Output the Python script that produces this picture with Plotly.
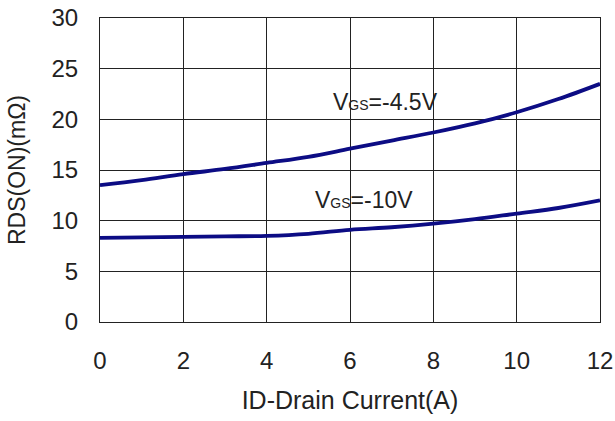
import plotly.graph_objects as go

drain_current = [0, 1, 2, 3, 4, 5, 6, 7, 8, 9, 10, 11, 12]
rds_vgs_4p5 = [13.5, 14.0, 14.6, 15.1, 15.7, 16.3, 17.1, 17.9, 18.7, 19.6, 20.7, 22.0, 23.5]
rds_vgs_10 = [8.3, 8.35, 8.4, 8.45, 8.5, 8.7, 9.1, 9.35, 9.7, 10.15, 10.7, 11.25, 12.0]

label_4p5 = "V<span style='font-size:14px'>GS</span>=-4.5V"
label_10 = "V<span style='font-size:14px'>GS</span>=-10V"

line_color = "#0c0c84"
font_family = "Liberation Sans, Arial, sans-serif"

fig = go.Figure()
fig.add_trace(go.Scatter(x=drain_current, y=rds_vgs_4p5, mode="lines",
                         line=dict(color=line_color, width=3.8, shape="spline"),
                         showlegend=False))
fig.add_trace(go.Scatter(x=drain_current, y=rds_vgs_10, mode="lines",
                         line=dict(color=line_color, width=3.8, shape="spline"),
                         showlegend=False))

fig.add_annotation(x=6.84, y=21.7, text=label_4p5, showarrow=False,
                   font=dict(size=23, color="#222222", family=font_family))
fig.add_annotation(x=6.34, y=12.0, text=label_10, showarrow=False,
                   font=dict(size=23, color="#222222", family=font_family))

axis_common = dict(showgrid=True, gridcolor="#222222", gridwidth=1,
                   showline=True, linecolor="#222222", linewidth=1, mirror=True,
                   zeroline=False, ticks="outside", tickcolor="rgba(0,0,0,0)",
                   automargin=False, ticklabeloverflow="allow",
                   tickfont=dict(size=24, color="#222222", family=font_family))

fig.update_xaxes(range=[0, 12], tickvals=[0, 2, 4, 6, 8, 10, 12], ticklen=17,
                 title=dict(text="ID-Drain Current(A)", standoff=18,
                            font=dict(size=25, color="#222222", family=font_family)),
                 **axis_common)
fig.update_yaxes(range=[0, 30], tickvals=[0, 5, 10, 15, 20, 25, 30], ticklen=16,
                 title=dict(text="RDS(ON)(mΩ)", standoff=19,
                            font=dict(size=23, color="#222222", family=font_family)),
                 **axis_common)

fig.update_layout(width=615, height=421, margin=dict(l=100, r=15, t=18, b=99),
                  plot_bgcolor="white", paper_bgcolor="white",
                  font=dict(family=font_family))

fig.write_html("out.html", config={"displayModeBar": False},
               post_script="document.body.style.margin='0';document.body.style.overflow='hidden';")
